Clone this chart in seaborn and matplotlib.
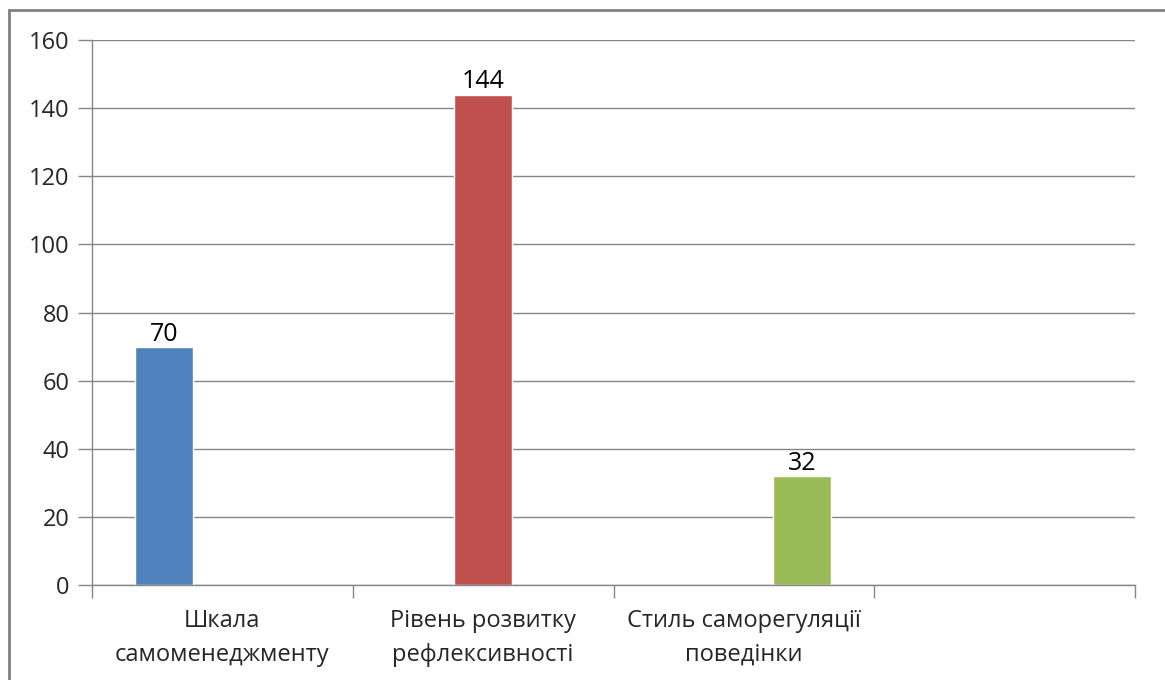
import matplotlib
matplotlib.use("Agg")
import matplotlib.pyplot as plt
import seaborn as sns
import pandas as pd
from matplotlib.patches import Rectangle

categories = ["Шкала\nсамоменеджменту", "Рівень розвитку\nрефлексивності", "Стиль саморегуляції\nповедінки"]
empty_category = [" "]
values = [70, 144, 32]
colors = ["#4F81BD", "#C0504D", "#9BBB59"]
yticks = [0, 20, 40, 60, 80, 100, 120, 140, 160]

sns.set_theme(style="white")
plt.rcParams['font.family'] = ['Open Sans', 'DejaVu Sans']

df = pd.DataFrame({"cat": categories, "series": categories, "value": values})

fig = plt.figure(figsize=(11.65, 6.8), dpi=100)
ax = fig.add_axes([92/1165, 95/680, (1135-92)/1165, (585-40)/680])

sns.barplot(data=df, x="cat", y="value", hue="series",
            order=categories + empty_category, hue_order=categories,
            palette=colors, width=3/4.5, dodge=True, saturation=1,
            legend=False, ax=ax, errorbar=None)

for c in ax.containers:
    ax.bar_label(c, fmt="%g", fontsize=18, color="black", padding=0)

ax.set_ylim(0, 160)
ax.set_yticks(yticks)
ax.set_xlim(-0.5, 3.5)
ax.set_xlabel("")
ax.set_ylabel("")
ax.yaxis.grid(True, color="#868686", linewidth=1)
ax.set_axisbelow(True)
for s in ["top", "right"]:
    ax.spines[s].set_visible(False)
for s in ["left", "bottom"]:
    ax.spines[s].set_color("#868686")
    ax.spines[s].set_linewidth(1)

ax.tick_params(axis="y", length=10, width=1, color="#868686", labelsize=17,
               labelcolor="#262626", pad=6, left=True)
ax.set_xticks([-0.5, 0.5, 1.5, 2.5, 3.5], minor=True)
ax.tick_params(axis="x", which="major", length=0, labelsize=17, labelcolor="#262626", pad=17)
ax.tick_params(axis="x", which="minor", length=9, width=1, color="#868686", bottom=True)
for lbl in ax.get_xticklabels():
    lbl.set_linespacing(1.55)

frame = Rectangle((9/1165, -0.5), 2, 0.5 + 1 - 10/680, transform=fig.transFigure,
                  fill=False, edgecolor="#808080", linewidth=2, clip_on=False)
fig.patches.append(frame)

fig.savefig("out.png", dpi=100)
